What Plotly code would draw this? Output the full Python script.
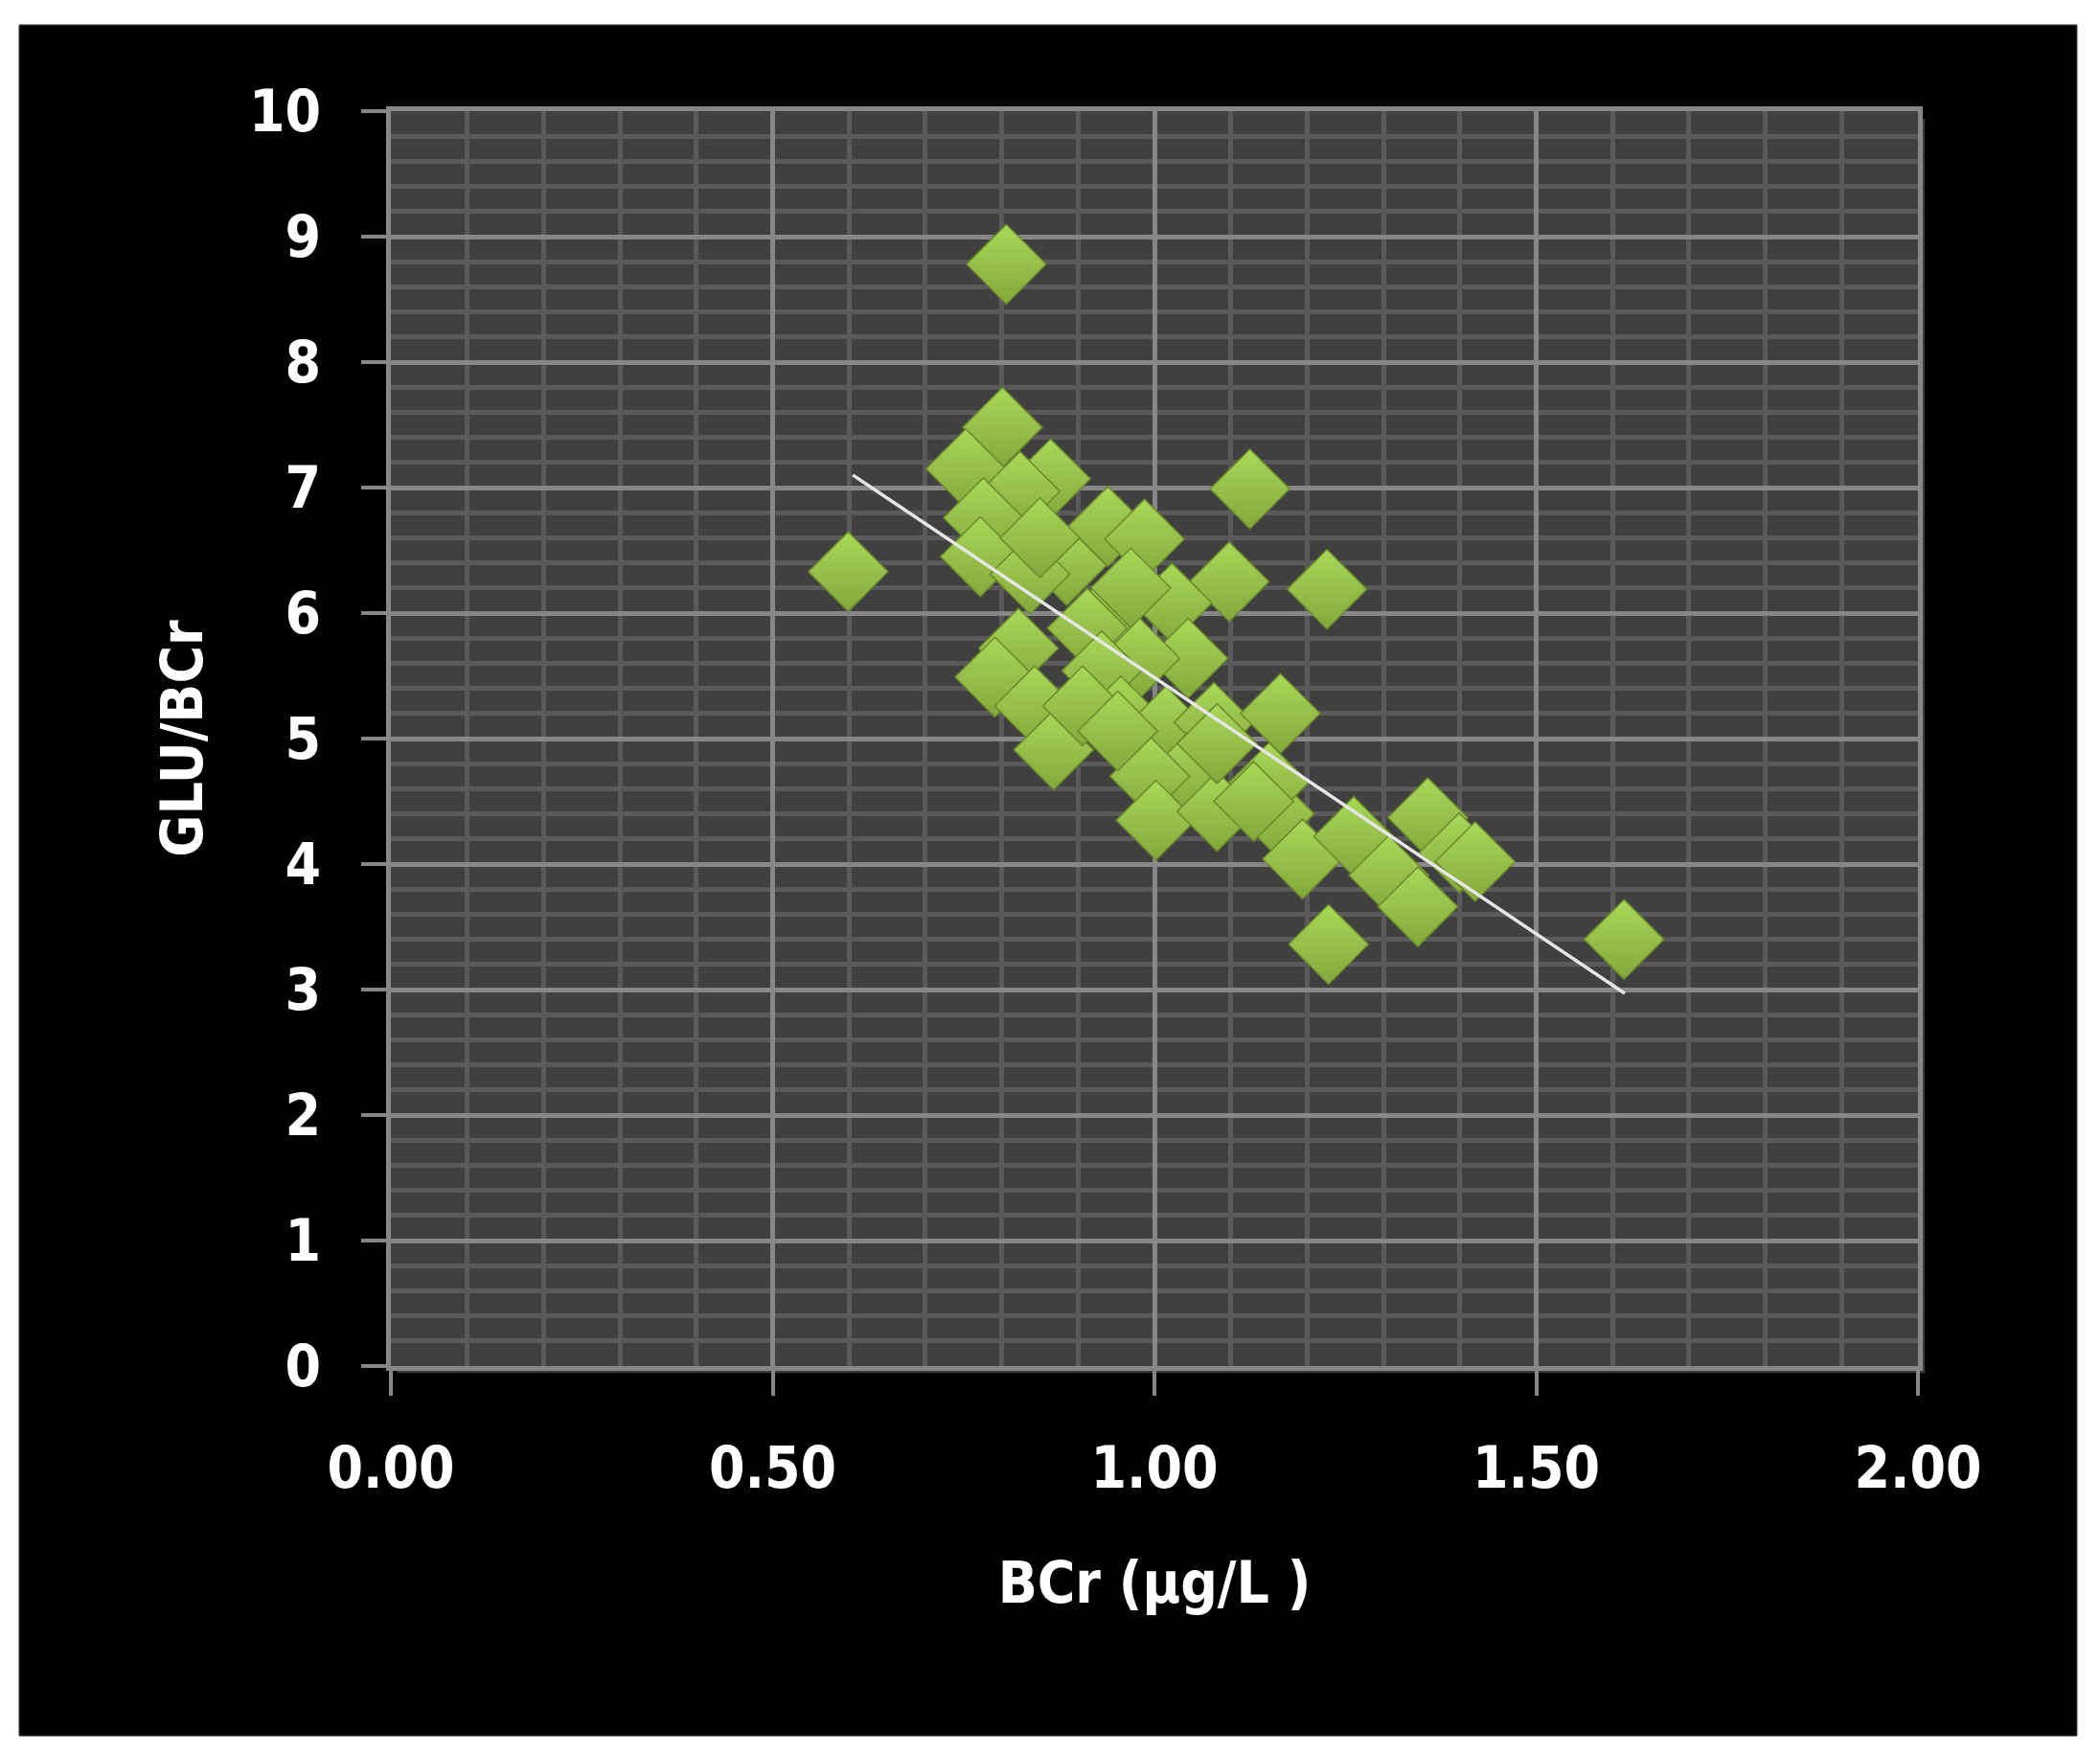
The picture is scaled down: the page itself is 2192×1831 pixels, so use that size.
import plotly.graph_objects as go

# BCr (ug/L) vs GLU/BCr
bcr = [0.806, 0.599, 0.801, 0.753, 0.864, 0.824, 0.776, 1.125, 0.939, 0.987,
       0.885, 0.772, 1.098, 1.226, 1.023, 0.837, 0.931, 0.969, 0.912, 0.822,
       0.791, 0.843, 0.868, 1.044, 0.981, 0.931, 0.956, 1.015, 1.078, 1.165,
       0.906, 1.044, 0.994, 1.002, 1.082, 1.157, 1.150, 1.194, 1.228, 1.261,
       1.358, 1.307, 1.399, 1.420, 1.345, 1.615, 1.082, 0.952, 1.130, 0.850]
glu_bcr = [8.78, 6.33, 7.48, 7.15, 7.07, 6.97, 6.76, 6.99, 6.69, 6.59,
           6.38, 6.45, 6.25, 6.19, 6.08, 6.31, 5.95, 6.20, 5.88, 5.72,
           5.49, 5.26, 4.91, 5.64, 5.64, 5.54, 5.18, 5.10, 5.13, 5.20,
           5.26, 4.73, 4.70, 4.35, 4.42, 4.40, 4.65, 4.04, 3.36, 4.22,
           4.37, 3.91, 4.09, 4.02, 3.66, 3.40, 4.96, 5.06, 4.50, 6.60]

# linear trend line end points
trend_x = [0.605, 1.616]
trend_y = [7.10, 2.97]

x_ticks = [0, 0.5, 1.0, 1.5, 2.0]
x_labels = ['0.00', '0.50', '1.00', '1.50', '2.00']
y_ticks = list(range(0, 11))

font_family = "Liberation Sans Narrow, DejaVu Sans Condensed, DejaVu Sans, sans-serif"

fig = go.Figure()

fig.add_trace(go.Scatter(
    x=bcr, y=glu_bcr,
    mode='markers',
    marker=dict(symbol='diamond', size=64,
                color='#a8d858',
                gradient=dict(type='vertical', color='#84a83c'),
                line=dict(width=1.5, color='#6a8a2c')),
    showlegend=False))

fig.add_trace(go.Scatter(
    x=trend_x, y=trend_y,
    mode='lines',
    line=dict(color='#e6e6e6', width=3.5),
    showlegend=False))

fig.update_layout(
    width=2192, height=1831,
    margin=dict(l=408, r=190, t=116, b=405),
    paper_bgcolor='white',
    plot_bgcolor='rgba(0,0,0,0)',
    font=dict(family=font_family, color='white', size=60, weight='bold'),
    shapes=[
        # black chart frame
        dict(type='rect', xref='paper', yref='paper', layer='below',
             x0=-0.2434, x1=1.1041, y0=-0.2947, y1=1.0687,
             fillcolor='black', line=dict(color='#333333', width=1)),
        # plot area shadow
        dict(type='rect', xref='paper', yref='paper', layer='below',
             x0=0.004, x1=1.0045, y0=-0.0055, y1=0.994,
             fillcolor='#3a3a3a', line=dict(width=0)),
        # plot area
        dict(type='rect', xref='paper', yref='paper', layer='below',
             x0=0, x1=1, y0=0, y1=1,
             fillcolor='#404040', line=dict(width=0)),
    ],
    xaxis=dict(
        range=[0, 2], tickvals=x_ticks, ticktext=x_labels,
        showgrid=True, gridcolor='#878787', gridwidth=5,
        minor=dict(dtick=0.1, showgrid=True, gridcolor='#5a5a5a', gridwidth=5),
        showline=True, linecolor='#878787', linewidth=5, mirror=True,
        ticks='outside', ticklen=26, tickwidth=4, tickcolor='#878787',
        ticklabelstandoff=24,
        zeroline=False,
        title=dict(text='BCr (μg/L )', standoff=66,
                   font=dict(family=font_family, size=60, color='white', weight='bold'))),
    yaxis=dict(
        range=[0, 10], tickvals=y_ticks,
        showgrid=True, gridcolor='#878787', gridwidth=5,
        minor=dict(dtick=0.2, showgrid=True, gridcolor='#5a5a5a', gridwidth=5),
        showline=True, linecolor='#878787', linewidth=5, mirror=True,
        ticks='outside', ticklen=26, tickwidth=4, tickcolor='#878787',
        ticklabelstandoff=30,
        zeroline=False,
        title=dict(text='GLU/BCr', standoff=30,
                   font=dict(family=font_family, size=60, color='white', weight='bold'))),
)

fig.write_html("out.html", config={'displayModeBar': False},
               post_script="document.body.style.margin='0px';")
